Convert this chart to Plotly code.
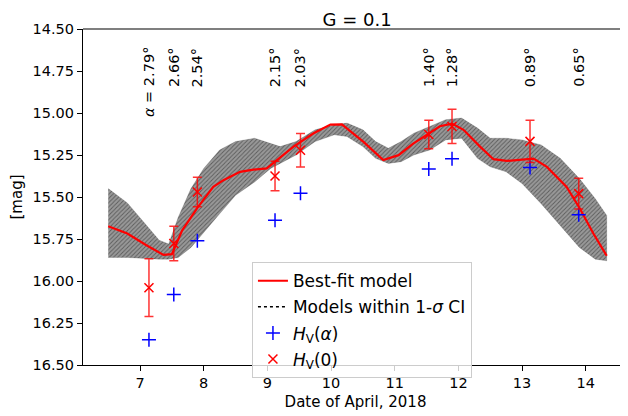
import plotly.graph_objects as go

# ---------------- data ----------------
obs_date = [7.14, 7.53, 7.90, 9.12, 9.52, 11.535, 11.90, 13.125, 13.89]
alpha_labels = ["<i>α</i> = 2.79°", "2.66°", "2.54°", "2.15°", "2.03°",
                "1.40°", "1.28°", "0.89°", "0.65°"]
hv_alpha = [16.35, 16.08, 15.76, 15.638, 15.477, 15.333, 15.273, 15.325, 15.606]
hv_zero = [16.04, 15.777, 15.47, 15.375, 15.222, 15.128, 15.08, 15.169, 15.48]
hv_zero_err = [0.172, 0.103, 0.088, 0.088, 0.10, 0.085, 0.102, 0.126, 0.092]

fit_x = [6.5, 6.8, 7.1, 7.25, 7.37, 7.5, 7.66, 7.9, 8.15, 8.31, 8.57, 8.78, 8.99,
         9.15, 9.41, 9.72, 9.99, 10.17, 10.51, 10.82, 11.06, 11.29, 11.535, 11.71,
         11.9, 12.08, 12.34, 12.55, 12.76, 12.95, 13.18, 13.39, 13.7, 13.91, 14.12, 14.33]
fit_y = [15.674, 15.717, 15.787, 15.82, 15.845, 15.84, 15.70, 15.565, 15.44, 15.40,
         15.35, 15.337, 15.33, 15.28, 15.20, 15.122, 15.069, 15.068, 15.172, 15.28,
         15.251, 15.182, 15.122, 15.079, 15.063, 15.10, 15.20, 15.275, 15.285, 15.28,
         15.271, 15.321, 15.44, 15.57, 15.717, 15.85]

band_x = [6.5, 6.8, 7.1, 7.3, 7.45, 7.6, 7.8, 8.0, 8.25, 8.5, 8.8, 9.05, 9.2, 9.45,
          9.75, 10.05, 10.25, 10.5, 10.7, 10.9, 11.1, 11.3, 11.55, 11.8, 12.05, 12.3,
          12.5, 12.75, 13.0, 13.3, 13.6, 13.9, 14.15, 14.33]
band_upper = [15.45, 15.535, 15.668, 15.757, 15.78, 15.62, 15.45, 15.33, 15.22, 15.17,
              15.15, 15.18, 15.20, 15.17, 15.10, 15.07, 15.06, 15.10, 15.17, 15.21,
              15.17, 15.12, 15.08, 15.04, 15.03, 15.09, 15.15, 15.15, 15.16, 15.19,
              15.27, 15.39, 15.51, 15.61]
band_lower = [15.86, 15.86, 15.865, 15.87, 15.87, 15.86, 15.80, 15.71, 15.60, 15.49,
              15.41, 15.33, 15.30, 15.25, 15.17, 15.13, 15.14, 15.20, 15.27, 15.30,
              15.29, 15.25, 15.22, 15.16, 15.15, 15.27, 15.32, 15.35, 15.42, 15.54,
              15.67, 15.80, 15.87, 15.88]

x_ticks = [7, 8, 9, 10, 11, 12, 13, 14]

FONT = "DejaVu Sans"

fig = go.Figure()

# band of models within 1-sigma
fig.add_trace(go.Scatter(
    x=band_x + band_x[::-1], y=band_upper + band_lower[::-1],
    mode="lines", line=dict(width=0.6, color="rgba(0,0,0,0.25)"), fill="toself",
    fillcolor="rgba(0,0,0,0.5)",
    fillpattern=dict(shape="/", fgcolor="rgba(0,0,0,0.8)", bgcolor="rgba(0,0,0,0.4)",
                     size=3, solidity=0.3),
    showlegend=False, hoverinfo="skip"))

fig.add_trace(go.Scatter(
    x=fit_x, y=fit_y, mode="lines", name="Best-fit model", legendgroup="a",
    line=dict(color="#ff0000", width=2.2), legendrank=1))

fig.add_trace(go.Scatter(
    x=[None], y=[None], mode="lines", name="Models within 1-<i>σ</i> CI", legendgroup="b",
    line=dict(color="black", width=1.5, dash="dot"), legendrank=2))

fig.add_trace(go.Scatter(
    x=obs_date, y=hv_alpha, mode="markers", name="<i>H</i><sub>V</sub>(<i>α</i>)",
    legendgroup="c",
    marker=dict(symbol="cross-thin", size=10, line=dict(color="#0000ff", width=1.5)),
    legendrank=3))

fig.add_trace(go.Scatter(
    x=obs_date, y=hv_zero, mode="markers", name="<i>H</i><sub>V</sub>(0)",
    legendgroup="d",
    marker=dict(symbol="x-thin", size=9, line=dict(color="#ff0000", width=1.5)),
    error_y=dict(type="data", array=hv_zero_err, color="rgba(255,0,0,0.8)",
                 thickness=1.5, width=4.5),
    legendrank=4))

for xd, lab in zip(obs_date, alpha_labels):
    fig.add_annotation(x=xd, xref="x", y=0.952, yref="paper", text=lab,
                       textangle=-90, showarrow=False, xanchor="center",
                       yanchor="top", font=dict(family=FONT, size=14.5, color="black"))

fig.add_shape(type="line", xref="paper", yref="paper", x0=0, x1=1, y0=1, y1=1,
              line=dict(color="black", width=1.1))

# page has an 8px body margin: figure sized to fit the 628x416 window
fig.update_layout(
    width=620, height=408,
    margin=dict(l=75, r=0, t=21, b=51, autoexpand=False),
    paper_bgcolor="white", plot_bgcolor="white",
    font=dict(family=FONT, size=14.5, color="black"),
    title=dict(text="G = 0.1", x=0.503, xref="paper", xanchor="center",
               y=0.971, yanchor="middle", font=dict(size=18)),
    legend=dict(x=0.31, y=0.306, xanchor="left", yanchor="top",
                traceorder="grouped", tracegroupgap=1,
                bgcolor="rgba(255,255,255,0.8)", bordercolor="#cccccc",
                borderwidth=1, font=dict(size=17)),
)
fig.update_xaxes(range=[6.104, 14.664], tickvals=x_ticks, ticks="outside", ticklen=5,
                 tickcolor="black", showline=True, linecolor="black", linewidth=1.1,
                 showgrid=False, zeroline=False, automargin=False,
                 title=dict(text="Date of April, 2018", standoff=6, font=dict(size=15)))
fig.update_yaxes(range=[16.5, 14.5], dtick=0.25, tick0=14.5, tickformat=".2f",
                 ticks="outside", ticklen=5, tickcolor="black", showline=True,
                 linecolor="black", linewidth=1.1, showgrid=False, zeroline=False,
                 automargin=False,
                 title=dict(text="[mag]", standoff=12, font=dict(size=15)))

fig.write_html("out.html")
